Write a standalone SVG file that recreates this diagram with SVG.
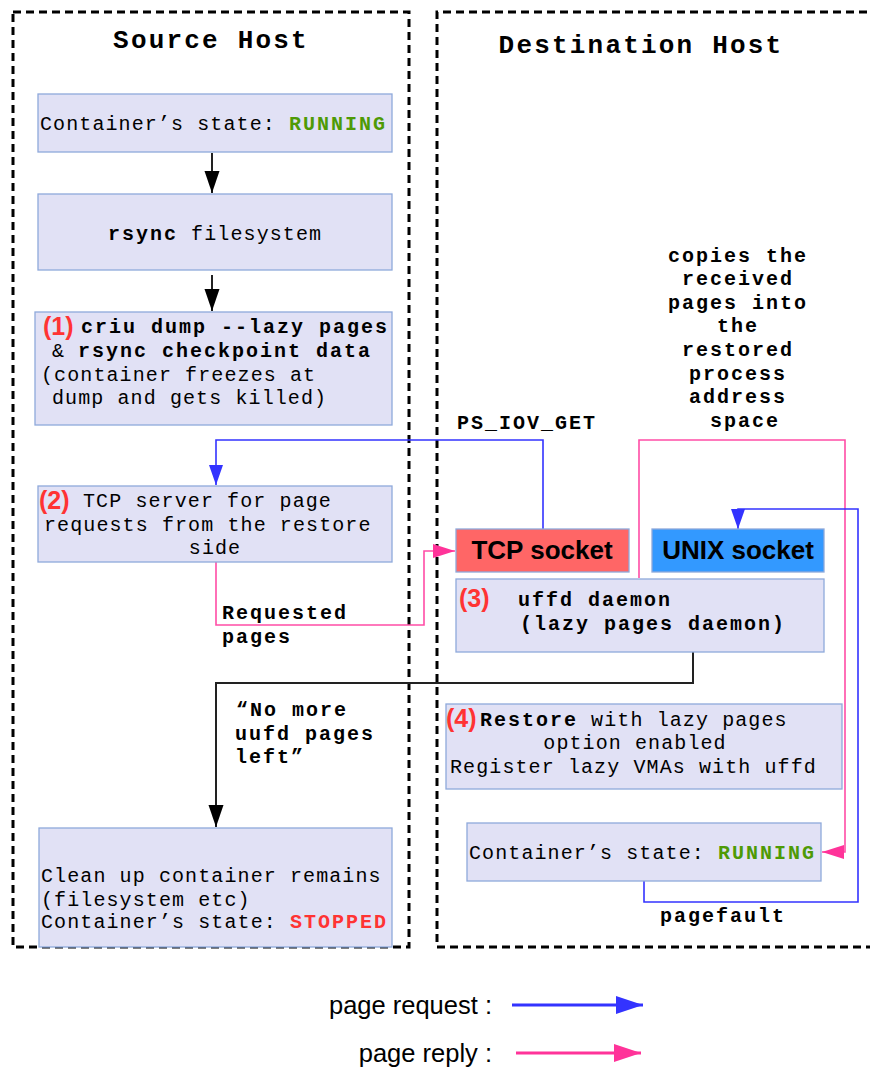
<svg xmlns="http://www.w3.org/2000/svg" width="870" height="1068" viewBox="0 0 870 1068">
<style>
.host{fill:none;stroke:#000;stroke-width:3;stroke-dasharray:8 5}
.box{fill:#e1e1f5;stroke:#8ea9db;stroke-width:1.3}
.m{font-family:"Liberation Mono",monospace;font-size:20px;letter-spacing:1.1px;fill:#000}
.b{font-weight:bold;letter-spacing:2px}
.t{font-family:"Liberation Mono",monospace;font-size:26px;font-weight:bold;letter-spacing:2.2px;fill:#000}
.num{font-family:"Liberation Sans",sans-serif;font-size:25px;font-weight:bold;fill:#ff3333}
.sock{font-family:"Liberation Sans",sans-serif;font-size:26px;font-weight:bold;fill:#000}
.leg{font-family:"Liberation Sans",sans-serif;font-size:25.5px;fill:#000}
.green{fill:#4e9a06;font-weight:bold;letter-spacing:2px}
.red{fill:#ff3333;font-weight:bold;letter-spacing:2px}
.blk{fill:none;stroke:#222;stroke-width:2}
.blu{fill:none;stroke:#3333ff;stroke-width:1.6}
.pnk{fill:none;stroke:#ff4da6;stroke-width:1.6}
</style>
<defs>
<marker id="ak" markerUnits="userSpaceOnUse" markerWidth="24" markerHeight="16" refX="22" refY="7.5" orient="auto"><path d="M0,0 L22,7.5 L0,15 z" fill="#000"/></marker>
<marker id="ab" markerUnits="userSpaceOnUse" markerWidth="24" markerHeight="16" refX="20" refY="7" orient="auto"><path d="M0,0 L20,7 L0,14 z" fill="#3333ff"/></marker>
<marker id="ap" markerUnits="userSpaceOnUse" markerWidth="26" markerHeight="16" refX="22" refY="7" orient="auto"><path d="M0,0 L22,7 L0,14 z" fill="#ff3399"/></marker>
<marker id="lb" markerUnits="userSpaceOnUse" markerWidth="30" markerHeight="20" refX="27" refY="9" orient="auto"><path d="M0,0 L27,9 L0,18 z" fill="#3333ff"/></marker>
<marker id="lp" markerUnits="userSpaceOnUse" markerWidth="30" markerHeight="20" refX="27" refY="9" orient="auto"><path d="M0,0 L27,9 L0,18 z" fill="#ff3399"/></marker>
</defs>

<g id="source-host">
<rect class="host" x="13" y="12" width="396" height="935"/>
<text class="t" x="211" y="48" text-anchor="middle">Source Host</text>
</g>
<g id="destination-host">
<path class="host" d="M880,12 L437,12 L437,947 L880,947"/>
<text class="t" x="641" y="53" text-anchor="middle">Destination Host</text>
</g>

<g id="connectors">
<path class="blk" d="M212,153 L212,193" marker-end="url(#ak)"/>
<path class="blk" d="M212,275 L212,311" marker-end="url(#ak)"/>
<path class="blu" d="M543,529 L543,440 L216,440 L216,485" marker-end="url(#ab)"/>
<path class="pnk" d="M216,562 L216,625 L424,625 L424,551 L455,551" marker-end="url(#ap)"/>
<path class="pnk" d="M639,578 L639,440 L845,440 L845,852 L822,852" marker-end="url(#ap)"/>
<path class="blu" d="M644,881 L644,902 L858,902 L858,509 L738,509 L738,529" marker-end="url(#ab)"/>
<path class="blk" d="M693,652 L693,683 L216,683 L216,827" marker-end="url(#ak)"/>
<text class="m b" x="457" y="429">PS_IOV_GET</text>
<text class="m b" text-anchor="middle">
<tspan x="745" y="262">copies the</tspan>
<tspan x="745" y="285">received</tspan>
<tspan x="745" y="309">pages into</tspan>
<tspan x="745" y="332">the</tspan>
<tspan x="745" y="356">restored</tspan>
<tspan x="745" y="380">process</tspan>
<tspan x="745" y="403">address</tspan>
<tspan x="745" y="427">space</tspan>
</text>
<text class="m b"><tspan x="222" y="619">Requested</tspan><tspan x="222" y="643">pages</tspan></text>
<text class="m b"><tspan x="236" y="716">“No more</tspan><tspan x="235" y="740">uufd pages</tspan><tspan x="235" y="763">left”</tspan></text>
<text class="m b" x="660" y="922">pagefault</text>
</g>

<g id="state-running-src">
<rect class="box" x="38" y="94" width="354" height="58"/>
<text class="m" x="40" y="130">Container’s state: <tspan class="green">RUNNING</tspan></text>
</g>
<g id="rsync-fs">
<rect class="box" x="38" y="194" width="354" height="76"/>
<text class="m" x="108" y="240"><tspan class="b">rsync</tspan> filesystem</text>
</g>
<g id="criu-dump">
<rect class="box" x="35" y="312" width="357" height="113"/>
<text class="num" x="43" y="335">(1)</text>
<text class="m b" x="81" y="333">criu dump --lazy pages</text>
<text class="m" x="52" y="357">&amp;<tspan class="b" x="78">rsync checkpoint data</tspan></text>
<text class="m" x="41" y="381">(container freezes at</text>
<text class="m" x="52" y="404">dump and gets killed)</text>
</g>
<g id="tcp-server">
<rect class="box" x="38" y="486" width="354" height="76"/>
<text class="num" x="39" y="509">(2)</text>
<text class="m" x="83" y="507">TCP server for page</text>
<text class="m" x="44" y="531">requests from the restore</text>
<text class="m" x="215" y="554" text-anchor="middle">side</text>
</g>
<g id="cleanup">
<rect class="box" x="39" y="828" width="353" height="119"/>
<text class="m" x="41" y="882">Clean up container remains</text>
<text class="m" x="41" y="906">(filesystem etc)</text>
<text class="m" x="41" y="928">Container’s state: <tspan class="red">STOPPED</tspan></text>
</g>

<g id="tcp-socket">
<rect x="456" y="529" width="173" height="43" fill="#ff6666" stroke="#8ea9db" stroke-width="1.3"/>
<text class="sock" x="542" y="559" text-anchor="middle">TCP socket</text>
</g>
<g id="unix-socket">
<rect x="652" y="529" width="172" height="43" fill="#3399ff" stroke="#8ea9db" stroke-width="1.3"/>
<text class="sock" x="738" y="559" text-anchor="middle">UNIX socket</text>
</g>
<g id="uffd-daemon">
<rect class="box" x="456" y="579" width="368" height="73"/>
<text class="num" x="459" y="607">(3)</text>
<text class="m b" x="518" y="606">uffd daemon</text>
<text class="m b" x="520" y="630">(lazy pages daemon)</text>
</g>
<g id="restore">
<rect class="box" x="446" y="704" width="396" height="85"/>
<text class="num" x="446" y="727">(4)</text>
<text class="m" x="480" y="726"><tspan class="b">Restore</tspan> with lazy pages</text>
<text class="m" x="635" y="749" text-anchor="middle">option enabled</text>
<text class="m" x="450" y="773">Register lazy VMAs with uffd</text>
</g>
<g id="state-running-dst">
<rect class="box" x="467" y="823" width="354" height="58"/>
<text class="m" x="469" y="859">Container’s state: <tspan class="green">RUNNING</tspan></text>
</g>

<g id="legend">
<text class="leg" x="492" y="1014" text-anchor="end">page request :</text>
<path d="M512,1005 L643,1005" stroke="#3333ff" stroke-width="3" marker-end="url(#lb)"/>
<text class="leg" x="492" y="1062" text-anchor="end">page reply :</text>
<path d="M516,1053 L641,1053" stroke="#ff3399" stroke-width="3" marker-end="url(#lp)"/>
</g>
</svg>
